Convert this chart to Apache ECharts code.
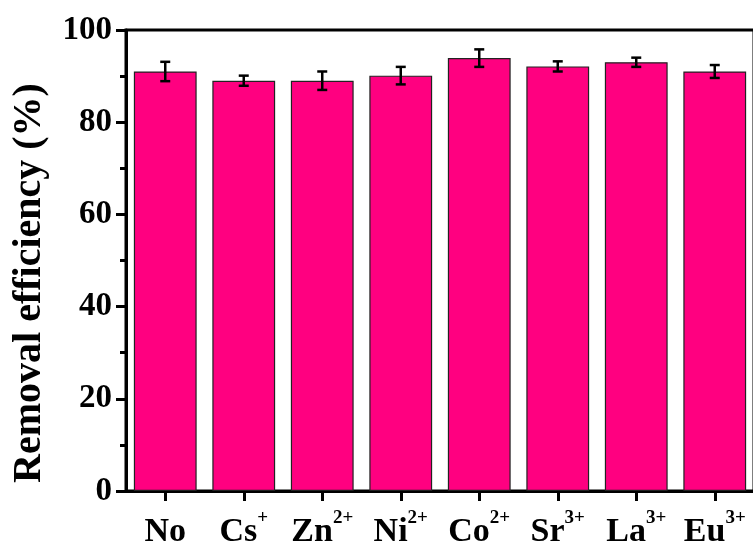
<!DOCTYPE html>
<html>
<head>
<meta charset="utf-8">
<script src="https://cdn.jsdelivr.net/npm/echarts@6/dist/echarts.min.js"></script>
<style>
  html, body { margin: 0; padding: 0; background: #fff; }
  #chart { width: 753px; height: 544px; }
</style>
</head>
<body>
<div id="chart"></div>
<script>
// Competing ions and their charges (charge shown as superscript)
const ions = ['No', 'Cs', 'Zn', 'Ni', 'Co', 'Sr', 'La', 'Eu'];
const charges = ['', '+', '2+', '2+', '2+', '3+', '3+', '3+'];
// Removal efficiency (%) and its standard deviation
const efficiency = [91.0, 89.0, 89.0, 90.1, 93.9, 92.1, 93.0, 91.0];
const errors = [2.1, 1.1, 2.0, 1.9, 1.9, 1.1, 1.0, 1.4];
const yTicks = [0, 20, 40, 60, 80, 100];

const FONT = '"Liberation Serif", "Times New Roman", serif';
const PINK = '#FF0080';

const chart = echarts.init(document.getElementById('chart'), null, { renderer: 'canvas' });

const categories = ions.map((n, i) => charges[i] ? '{m|' + n + '}{sup|' + charges[i] + '}' : '{m|' + n + '}');

const option = {
  animation: false,
  backgroundColor: '#ffffff',
  grid: {
    left: 126, top: 30, width: 628, height: 461,
    containLabel: false,
    outerBoundsMode: 'none',
    show: true, borderColor: '#000', borderWidth: 3, backgroundColor: 'transparent'
  },
  xAxis: {
    type: 'category',
    data: categories,
    boundaryGap: true,
    axisLine: { show: true, lineStyle: { color: '#000', width: 3 } },
    axisTick: { show: true, alignWithLabel: true, interval: 0, inside: false, length: 10, lineStyle: { color: '#000', width: 3 } },
    axisLabel: {
      interval: 0,
      margin: 18,
      color: '#000',
      fontFamily: FONT,
      fontWeight: 'bold',
      fontSize: 34,
      rich: {
        m: { fontFamily: FONT, fontWeight: 'bold', fontSize: 34, color: '#000', lineHeight: 40, verticalAlign: 'bottom' },
        sup: { fontFamily: FONT, fontWeight: 'bold', fontSize: 19, color: '#000', lineHeight: 30, verticalAlign: 'top' }
      }
    },
    splitLine: { show: false }
  },
  yAxis: {
    type: 'value',
    min: yTicks[0],
    max: yTicks[yTicks.length - 1],
    interval: yTicks[1] - yTicks[0],
    axisLine: { show: true, lineStyle: { color: '#000', width: 3 } },
    axisTick: { show: true, length: 10, lineStyle: { color: '#000', width: 3 } },
    minorTick: { show: true, splitNumber: 2, length: 6, lineStyle: { color: '#000', width: 3 } },
    axisLabel: {
      margin: 14,
      color: '#000',
      fontFamily: FONT,
      fontWeight: 'bold',
      fontSize: 33
    },
    splitLine: { show: false }
  },
  graphic: [{
    type: 'text',
    x: 30, y: 283,
    rotation: Math.PI / 2,
    style: {
      text: 'Removal efficiency (%)',
      fontFamily: FONT,
      fontWeight: 'bold',
      fontSize: 40,
      fill: '#000',
      align: 'center',
      verticalAlign: 'middle'
    }
  }],
  series: [
    {
      type: 'bar',
      data: efficiency,
      barCategoryGap: '20%',
      itemStyle: { color: PINK, borderColor: '#222', borderWidth: 1.2 },
      z: 2
    },
    {
      type: 'custom',
      data: efficiency.map((v, i) => [i, v - errors[i], v + errors[i]]),
      renderItem: function (params, api) {
        const lo = api.coord([api.value(0), api.value(1)]);
        const hi = api.coord([api.value(0), api.value(2)]);
        const half = 5;
        const st = { stroke: '#000', lineWidth: 2.5 };
        return {
          type: 'group',
          children: [
            { type: 'line', shape: { x1: hi[0], y1: hi[1], x2: lo[0], y2: lo[1] }, style: st },
            { type: 'line', shape: { x1: hi[0] - half, y1: hi[1], x2: hi[0] + half, y2: hi[1] }, style: st },
            { type: 'line', shape: { x1: lo[0] - half, y1: lo[1], x2: lo[0] + half, y2: lo[1] }, style: st }
          ]
        };
      },
      encode: { x: 0, y: [1, 2] },
      z: 5
    }
  ]
};

chart.setOption(option);
</script>
</body>
</html>
